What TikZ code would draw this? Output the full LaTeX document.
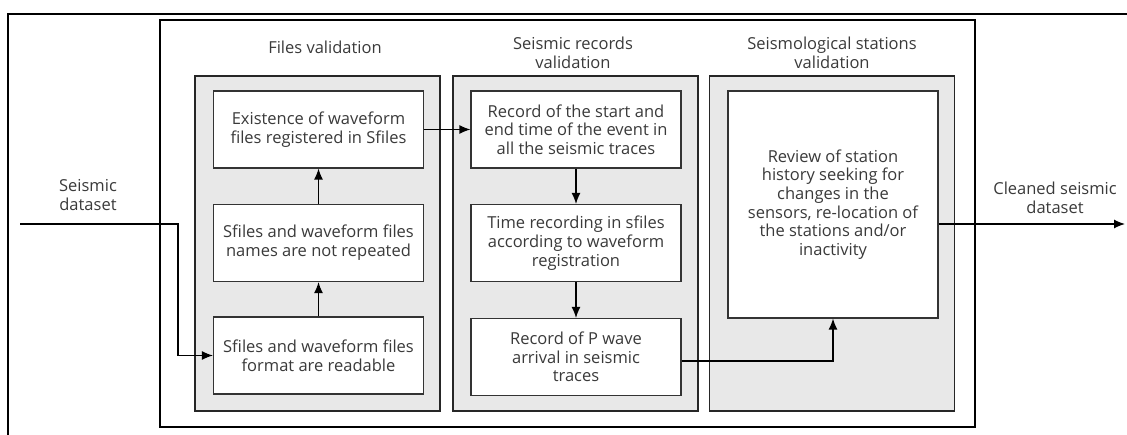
\documentclass[tikz,border=0pt]{standalone}
\usepackage{fontspec}
\setmainfont{Open Sans}
\usetikzlibrary{arrows.meta}
\definecolor{panelgray}{HTML}{E8E8E8}
\definecolor{textgray}{HTML}{3A3A3A}
\begin{document}
\begin{tikzpicture}[x=1pt,y=-1pt,
    every node/.style={font=\fontsize{16.5}{18.7}\selectfont, text=textgray, align=center},
    panel/.style={draw=black!85, line width=1.4pt, fill=panelgray, minimum width=245pt, minimum height=335pt},
    stepbox/.style={draw=black!80, line width=1.2pt, fill=white, minimum width=210pt, minimum height=77pt, inner sep=2pt},
    link/.style={draw=black, line width=1.2pt, -{Latex[length=11pt,width=9pt]}}]
    \useasboundingbox (0,0) rectangle (1127,435);
    % frames
    \draw[line width=1.5pt] (8,436) -- (8,14) -- (1128,14);
    \draw[line width=1.2pt] (160,20) rectangle (975,427);
    % panels
    \node[panel] (files) at (317.5,243.5) {};
    \node[panel] (records) at (575.5,243.5) {};
    \node[panel] (stations) at (832,243.5) {};
    \node (filestitle) at (325,47) {Files validation};
    \node (recordstitle) at (573,53) {Seismic records\\validation};
    \node (stationstitle) at (832,53) {Seismological stations\\validation};
    % files validation
    \node[stepbox] (exist) at (318.5,129.5) {Existence of waveform\\files registered in Sfiles};
    \node[stepbox] (names) at (318.5,243) {Sfiles and waveform files\\names are not repeated};
    \node[stepbox] (format) at (318.5,355.5) {Sfiles and waveform files\\format are readable};
    % seismic records validation
    \node[stepbox] (startend) at (576,129.5) {Record of the start and\\end time of the event in\\all the seismic traces};
    \node[stepbox] (timerec) at (576,243) {Time recording in sfiles\\according to waveform\\registration};
    \node[stepbox] (pwave) at (576,357) {Record of P wave\\arrival in seismic\\traces};
    % stations validation
    \node[stepbox, minimum height=227pt] (review) at (833,204.5) {Review of station\\history seeking for\\changes in the\\sensors, re-location of\\the stations and/or\\inactivity};
    % inputs and outputs
    \node (indata) at (88,195) {Seismic\\dataset};
    \node (outdata) at (1055,198) {Cleaned seismic\\dataset};
    \coordinate (instart) at (20,224);
    \coordinate (outend) at (1125,224);
    % connectors
    \draw[link] (instart) -| (178,355.5) -- (format.west);
    \draw[link] (format.north) -- (names.south);
    \draw[link] (names.north) -- (exist.south);
    \draw[link] (exist.east) -- (startend.west);
    \draw[link] (startend.south) -- (timerec.north);
    \draw[link] (timerec.south) -- (pwave.north);
    \draw[link] (pwave.east |- 0,361) -| (review.south);
    \draw[link] (review.east |- outend) -- (outend);
\end{tikzpicture}
\end{document}
